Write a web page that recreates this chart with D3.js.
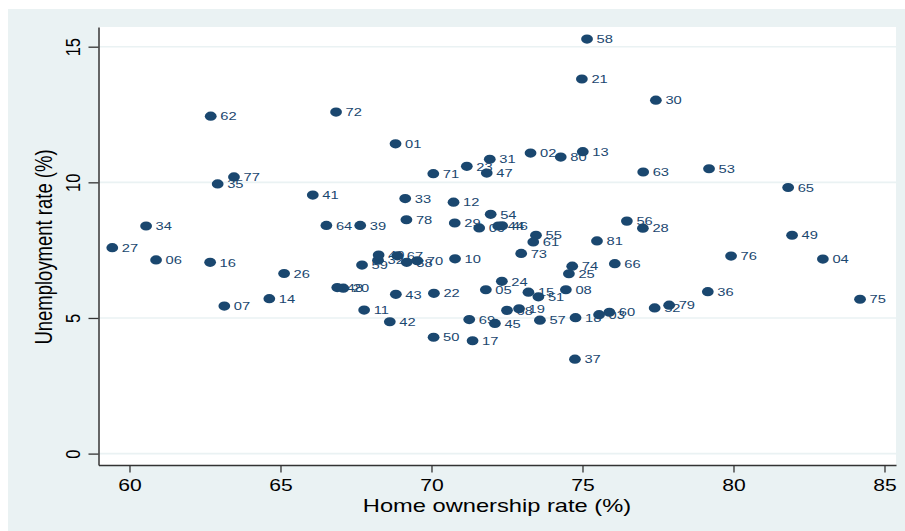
<!DOCTYPE html>
<html>
<head>
<meta charset="utf-8">
<script src="https://cdn.jsdelivr.net/npm/d3@7"></script>
<style>
  html, body { margin: 0; padding: 0; background: #ffffff; }
  svg { display: block; }
  text { font-family: "Liberation Sans", Arial, Helvetica, sans-serif; }
</style>
</head>
<body>
<svg id="chart" width="905" height="531"></svg>
<script>
// Observation labels (drawn next to each marker)
const ids = [
  "01","02","04","05","06","07","08","10","11","12",
  "13","14","15","16","17","18","20","21","22","23",
  "24","25","26","27","28","29","30","31","32","33",
  "34","35","36","37","38","39","40","41","42","43",
  "44","45","46","47","48","49","50","51","52","53",
  "54","55","56","57","58","59","03","60","61","62",
  "09","63","64","65","66","67","68","19","69","70",
  "71","72","73","74","75","76","77","78","79","80","81"
];
// Home ownership rate (%)
const homeOwnership = [
  68.81, 73.28, 82.96, 71.80, 60.88, 63.14, 74.45, 70.78, 67.77, 70.73,
  75.01, 64.63, 73.21, 62.67, 71.36, 74.77, 67.08, 74.98, 70.08, 71.17,
  72.33, 74.55, 65.12, 59.43, 77.00, 70.77, 77.43, 71.93, 68.23, 69.13,
  60.55, 62.92, 79.15, 74.75, 69.18, 67.64, 68.25, 66.07, 68.62, 68.82,
  72.21, 72.10, 72.34, 71.83, 66.88, 81.94, 70.07, 73.54, 77.39, 79.19,
  71.96, 73.46, 76.47, 73.59, 75.15, 67.70, 75.55, 75.89, 73.37, 62.69,
  71.58, 77.01, 66.52, 81.81, 76.07, 68.87, 72.50, 72.90, 71.25, 69.53,
  70.06, 66.84, 72.97, 74.66, 84.19, 79.92, 63.46, 69.17, 77.87, 74.28, 75.48
];
// Unemployment rate (%)
const unemployment = [
  11.42, 11.08, 7.17, 6.04, 7.14, 5.44, 6.04, 7.18, 5.29, 9.27,
  11.13, 5.71, 5.95, 7.05, 4.16, 5.01, 6.10, 13.81, 5.91, 10.59,
  6.35, 6.63, 6.64, 7.59, 8.31, 8.50, 13.03, 10.85, 7.13, 9.40,
  8.39, 9.94, 5.97, 3.48, 7.05, 8.41, 7.32, 9.53, 4.86, 5.87,
  8.39, 4.80, 8.40, 10.34, 6.12, 8.05, 4.29, 5.78, 5.37, 10.50,
  8.82, 8.05, 8.57, 4.92, 15.28, 6.95, 5.12, 5.21, 7.80, 12.44,
  8.32, 10.38, 8.41, 9.81, 7.00, 7.29, 5.28, 5.34, 4.94, 7.11,
  10.32, 12.59, 7.38, 6.91, 5.69, 7.28, 10.20, 8.62, 5.47, 10.93, 7.84
];
const xTicks = [60, 65, 70, 75, 80, 85];
const yTicks = [0, 5, 10, 15];
const xTitle = "Home ownership rate (%)";
const yTitle = "Unemployment rate (%)";

const navy = "#1a476f";
const panelBg = "#eaf2f3";
const axisColor = "#333333";
const SX = 1.28;            // horizontal stretch of the typeface and markers

const svg = d3.select("#chart");
const W = 905, H = 531;
const plot = { left: 98.5, right: 896, top: 27, bottom: 465 };

// outer panel and plot region
svg.append("rect").attr("x", 0).attr("y", 0).attr("width", W).attr("height", H).attr("fill", "#ffffff");
svg.append("rect").attr("x", 8).attr("y", 9).attr("width", W - 8).attr("height", H - 9).attr("fill", panelBg);
svg.append("rect")
  .attr("x", plot.left).attr("y", plot.top)
  .attr("width", plot.right - plot.left).attr("height", plot.bottom - plot.top)
  .attr("fill", "#ffffff");

const x = d3.scaleLinear().domain([58.974, 85.381]).range([plot.left, plot.right]);
const y = d3.scaleLinear().domain([-0.42, 15.726]).range([plot.bottom, plot.top]);

// horizontal grid lines
svg.append("g").selectAll("line").data(yTicks).join("line")
  .attr("x1", plot.left).attr("x2", plot.right)
  .attr("y1", d => y(d)).attr("y2", d => y(d))
  .attr("stroke", panelBg).attr("stroke-width", 1.6);

// x axis
const gx = svg.append("g").attr("transform", `translate(0,${plot.bottom})`)
  .call(d3.axisBottom(x).tickValues(xTicks).tickSize(7.5).tickSizeOuter(0).tickFormat(d3.format("d")));
gx.select(".domain").attr("stroke", axisColor).attr("stroke-width", 1.5);
gx.selectAll(".tick line").attr("stroke", axisColor).attr("stroke-width", 1.3);
gx.selectAll(".tick text")
  .attr("y", null).attr("dy", null)
  .attr("transform", `translate(0,26) scale(${SX},1)`)
  .attr("text-anchor", "middle")
  .attr("fill", "#000").attr("font-size", 16.5)
  .attr("font-family", "Liberation Sans, Arial, sans-serif");

// y axis
const gy = svg.append("g").attr("transform", `translate(${plot.left},0)`)
  .call(d3.axisLeft(y).tickValues(yTicks).tickSize(10).tickSizeOuter(0).tickFormat(d3.format("d")));
gy.select(".domain").attr("stroke", axisColor).attr("stroke-width", 1.5);
gy.selectAll(".tick line").attr("stroke", axisColor).attr("stroke-width", 1.3);
gy.selectAll(".tick text")
  .attr("x", null).attr("dy", null)
  .attr("transform", `translate(-19,0) scale(${SX},1) rotate(-90)`)
  .attr("text-anchor", "middle")
  .attr("fill", "#000").attr("font-size", 16.5)
  .attr("font-family", "Liberation Sans, Arial, sans-serif");

// axis titles
svg.append("text")
  .attr("transform", `translate(497,512) scale(${SX},1)`)
  .attr("text-anchor", "middle").attr("font-size", 18.5).attr("fill", "#000")
  .text(xTitle);
svg.append("text")
  .attr("transform", `translate(52,247) scale(${SX},1) rotate(-90)`)
  .attr("text-anchor", "middle").attr("font-size", 18.5).attr("fill", "#000")
  .text(yTitle);

// markers with their labels, one observation at a time
const points = ids.map((id, i) => ({ id, hx: homeOwnership[i], uy: unemployment[i] }));
const pg = svg.append("g").selectAll("g").data(points).join("g")
  .attr("transform", d => `translate(${x(d.hx)},${y(d.uy)})`);
pg.append("ellipse")
  .attr("rx", 4.6 * SX).attr("ry", 4.6)
  .attr("fill", navy);
pg.append("text")
  .attr("transform", `translate(9.5,4.2) scale(${SX},1)`)
  .attr("font-size", 11.5).attr("fill", navy)
  .text(d => d.id);
</script>
</body>
</html>
